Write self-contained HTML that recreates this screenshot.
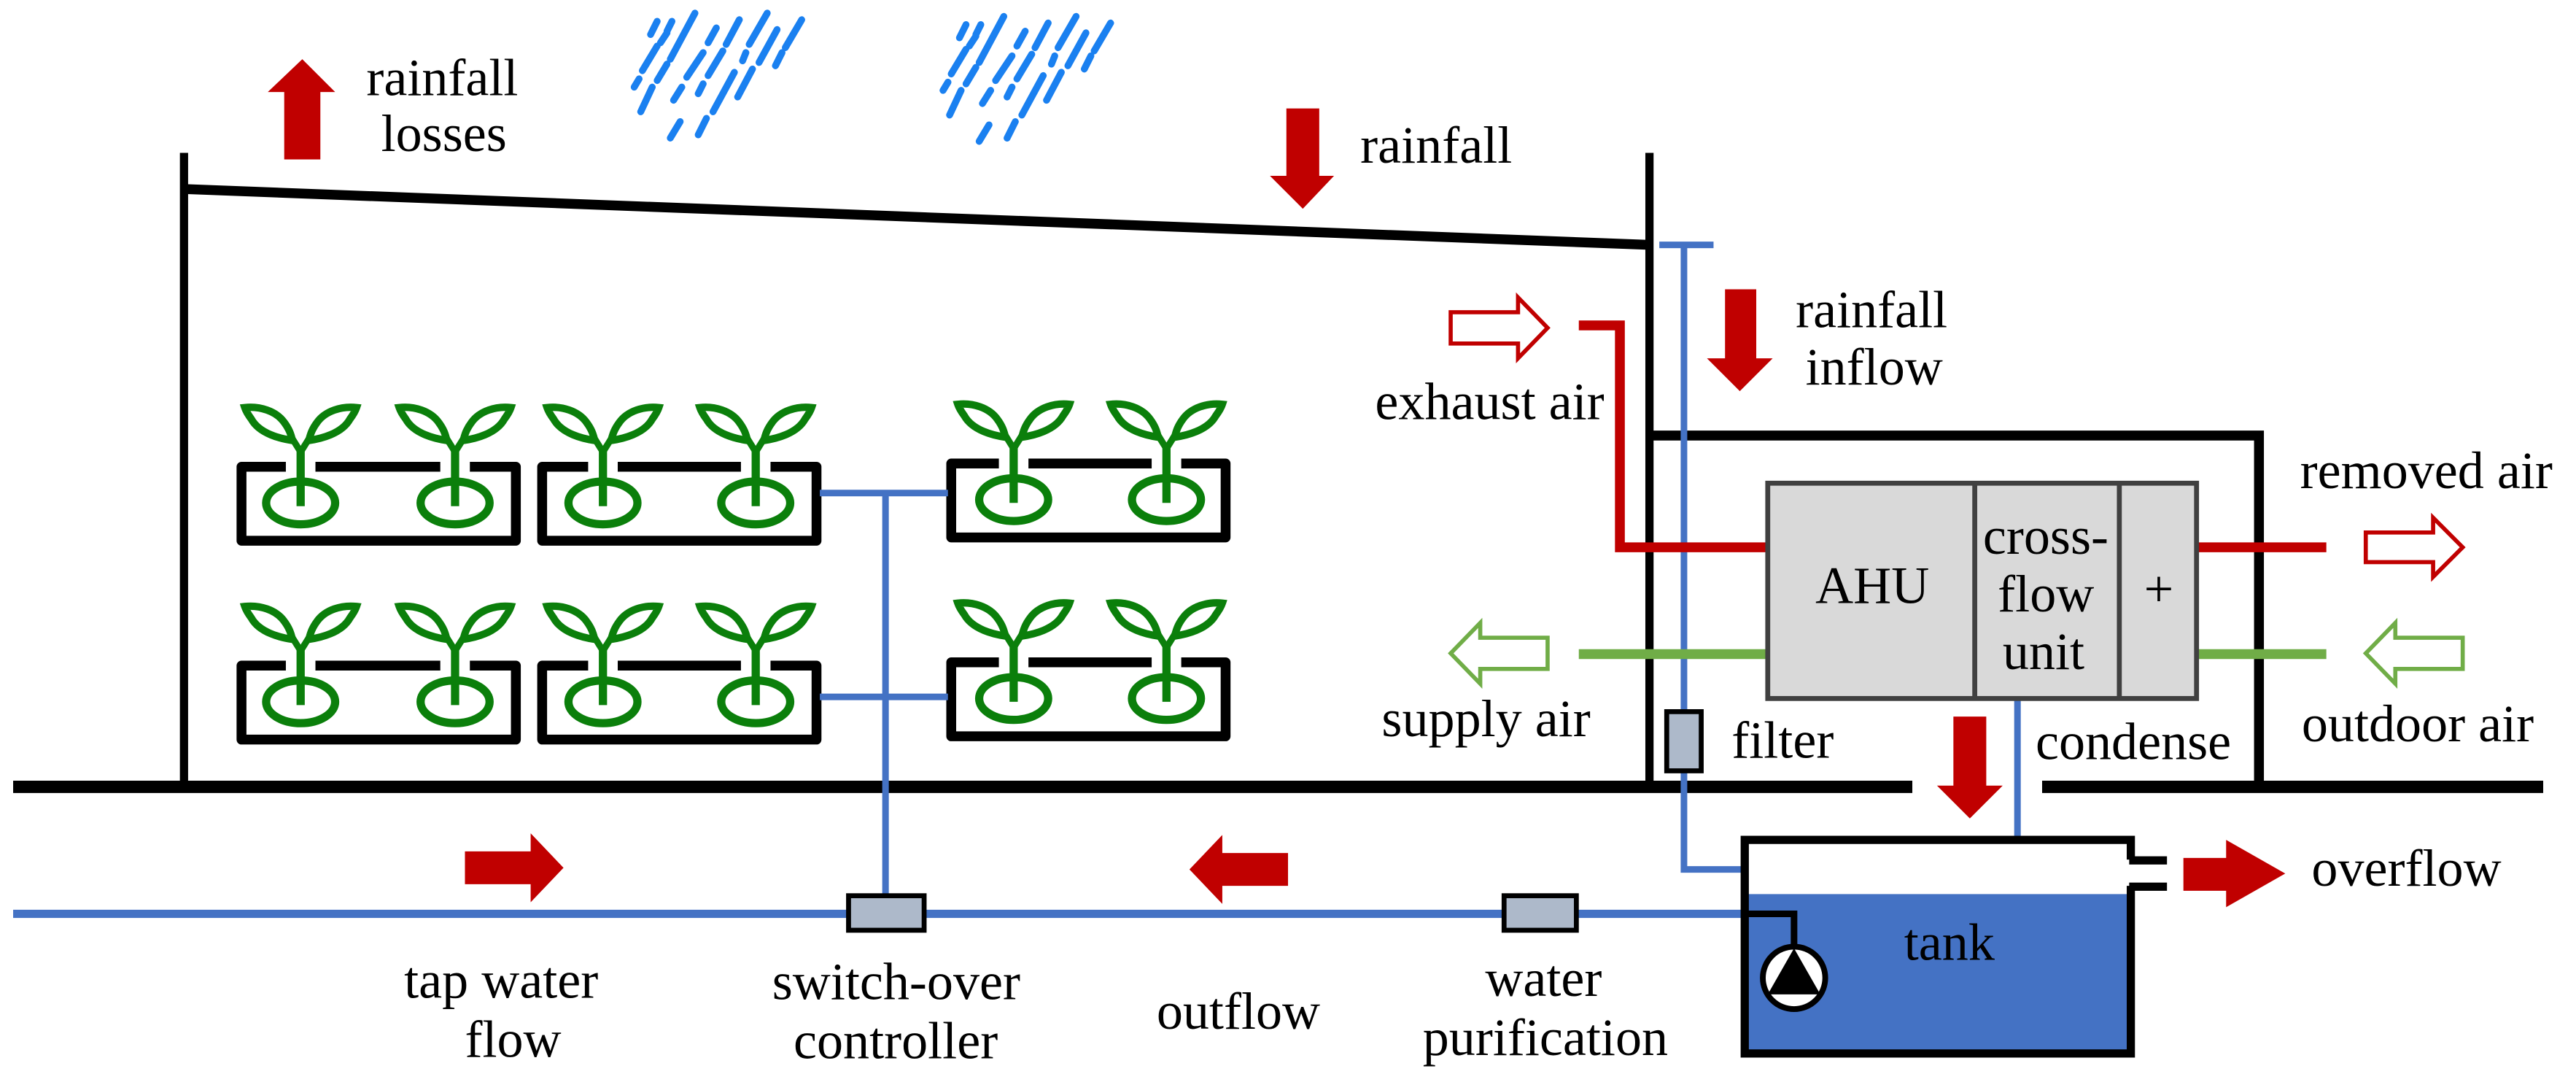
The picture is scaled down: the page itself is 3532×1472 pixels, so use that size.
<!DOCTYPE html>
<html><head><meta charset="utf-8"><style>
html,body{margin:0;padding:0;background:#fff;width:3532px;height:1472px;overflow:hidden}
#w{position:absolute;left:0;top:0;width:1568px;height:653.5px;transform:scale(2.2526);transform-origin:0 0}
svg{display:block;position:absolute;left:0;top:0}
.t{position:absolute;font-family:"Liberation Serif","DejaVu Serif",serif;font-size:32px;line-height:32px;white-space:nowrap;color:#000}
</style></head><body><div id="w">
<svg width="1568" height="653.5" viewBox="0 0 1568 653.5" xmlns="http://www.w3.org/2000/svg">
<defs>
<g id="pl">
<path d="M0,-10 L0,24" stroke="#0b7f0b" stroke-width="5"/>
<path d="M-5,-17 L0,-9 L5,-17" stroke="#0b7f0b" stroke-width="4" fill="none"/>
<path d="M-5,-16 C-12,-17 -25,-20 -30,-29 C-33,-33 -34,-36 -34,-36 C-25,-37 -15,-34 -10,-27 C-7,-23 -6,-20 -5,-16 Z" fill="#fff" stroke="#0b7f0b" stroke-width="4.5"/>
<path d="M5,-16 C12,-17 25,-20 30,-29 C33,-33 34,-36 34,-36 C25,-37 15,-34 10,-27 C7,-23 6,-20 5,-16 Z" fill="#fff" stroke="#0b7f0b" stroke-width="4.5"/>
<ellipse cx="0" cy="22" rx="21" ry="13" fill="none" stroke="#0b7f0b" stroke-width="5"/>
</g>
<g id="rain" stroke="#1a80f0" stroke-width="4.2" stroke-linecap="round">
<line x1="396" y1="21" x2="400" y2="13"/><line x1="402" y1="26" x2="406" y2="20"/><line x1="406" y1="19" x2="409" y2="13"/>
<line x1="408" y1="36" x2="423" y2="8"/><line x1="391" y1="43" x2="400" y2="28"/><line x1="400" y1="49" x2="406" y2="39"/>
<line x1="386" y1="53" x2="389" y2="48"/><line x1="390" y1="68" x2="397" y2="53"/><line x1="410" y1="61" x2="415" y2="53"/>
<line x1="408" y1="84" x2="414" y2="74"/><line x1="418" y1="47" x2="428" y2="32"/><line x1="425" y1="57" x2="428" y2="51"/>
<line x1="425" y1="82" x2="430" y2="72"/><line x1="431" y1="26" x2="436" y2="17"/><line x1="431" y1="46" x2="440" y2="31"/>
<line x1="434" y1="68" x2="447" y2="44"/><line x1="442" y1="27" x2="450" y2="12"/><line x1="449" y1="59" x2="458" y2="42"/>
<line x1="452" y1="37" x2="454" y2="32"/><line x1="456" y1="27" x2="467" y2="8"/><line x1="462" y1="38" x2="473" y2="18"/>
<line x1="472" y1="40" x2="476" y2="32"/><line x1="478" y1="29" x2="488" y2="12"/>
</g>
</defs>
<rect width="1568" height="653.5" fill="#fff"/>
<use href="#rain"/>
<use href="#rain" transform="translate(188,2)"/>
<polygon points="173,97 195,97 195,56 204,56 184,36 163,56 173,56" fill="#c00000"/>
<polygon points="783,66 803,66 803,107 812,107 793,127 773,107 783,107" fill="#c00000"/>
<polygon points="1050,176 1069,176 1069,218 1079,218 1059,238 1039,218 1050,218" fill="#c00000"/>
<line x1="112" y1="93" x2="112" y2="479" stroke="#000" stroke-width="5"/>
<line x1="112" y1="115" x2="1004" y2="149" stroke="#000" stroke-width="6"/>
<line x1="1004" y1="93" x2="1004" y2="479" stroke="#000" stroke-width="5"/>
<polyline points="1004,265 1375,265 1375,479" fill="none" stroke="#000" stroke-width="6"/>
<rect x="8" y="475" width="1156" height="7.5" fill="#000"/>
<rect x="1243" y="475" width="305" height="7.5" fill="#000"/>
<g fill="none" stroke="#000" stroke-width="6" stroke-linejoin="round">
<rect x="147" y="284" width="167" height="45"/><rect x="330" y="284" width="167" height="45"/><rect x="579" y="282" width="167" height="45"/>
<rect x="147" y="405" width="167" height="45"/><rect x="330" y="405" width="167" height="45"/><rect x="579" y="403" width="167" height="45"/>
</g>
<g fill="#fff">
<rect x="174" y="279" width="18" height="9"/><rect x="268" y="279" width="18" height="9"/><rect x="358" y="279" width="18" height="9"/><rect x="451" y="279" width="18" height="9"/><rect x="608" y="277" width="18" height="9"/><rect x="701" y="277" width="18" height="9"/>
<rect x="174" y="400" width="18" height="9"/><rect x="268" y="400" width="18" height="9"/><rect x="358" y="400" width="18" height="9"/><rect x="451" y="400" width="18" height="9"/><rect x="608" y="398" width="18" height="9"/><rect x="701" y="398" width="18" height="9"/>
</g>
<use href="#pl" x="183" y="284"/><use href="#pl" x="277" y="284"/><use href="#pl" x="367" y="284"/><use href="#pl" x="460" y="284"/><use href="#pl" x="617" y="282"/><use href="#pl" x="710" y="282"/>
<use href="#pl" x="183" y="405"/><use href="#pl" x="277" y="405"/><use href="#pl" x="367" y="405"/><use href="#pl" x="460" y="405"/><use href="#pl" x="617" y="403"/><use href="#pl" x="710" y="403"/>
<g stroke="#4472c4" stroke-width="4" fill="none">
<line x1="499" y1="300" x2="577" y2="300"/><line x1="499" y1="424" x2="577" y2="424"/>
<line x1="539" y1="300" x2="539" y2="545"/>
<line x1="1010" y1="149" x2="1043" y2="149"/>
<polyline points="1025,149 1025,529 1060,529"/>
<line x1="1228" y1="425" x2="1228" y2="510"/>
</g>
<line x1="8" y1="556" x2="1062" y2="556" stroke="#4472c4" stroke-width="5"/>
<polyline points="961,198 986,198 986,333 1076,333" fill="none" stroke="#c00000" stroke-width="6"/>
<line x1="1337" y1="333" x2="1416" y2="333" stroke="#c00000" stroke-width="6"/>
<line x1="961" y1="398" x2="1076" y2="398" stroke="#70ad47" stroke-width="6"/>
<line x1="1337" y1="398" x2="1416" y2="398" stroke="#70ad47" stroke-width="6"/>
<polygon points="883,190 924,190 924,181 942,199.5 924,218 924,209 883,209" fill="#fff" stroke="#c00000" stroke-width="2.5"/>
<polygon points="1440,324 1481,324 1481,315 1499,333 1481,351 1481,342 1440,342" fill="#fff" stroke="#c00000" stroke-width="2.5"/>
<polygon points="942,388 901,388 901,379 883,397.5 901,416 901,407 942,407" fill="#fff" stroke="#70ad47" stroke-width="2.5"/>
<polygon points="1499,388 1458,388 1458,379 1440,397.5 1458,416 1458,407 1499,407" fill="#fff" stroke="#70ad47" stroke-width="2.5"/>
<rect x="1076" y="294" width="261" height="131" fill="#d9d9d9" stroke="#404040" stroke-width="3"/>
<line x1="1202" y1="294" x2="1202" y2="425" stroke="#404040" stroke-width="3"/>
<line x1="1290" y1="294" x2="1290" y2="425" stroke="#404040" stroke-width="3"/>
<rect x="1014.5" y="433" width="21" height="36" fill="#adb9ca" stroke="#000" stroke-width="3"/>
<polygon points="1189,436 1209,436 1209,478 1219,478 1199,498 1179,478 1189,478" fill="#c00000"/>
<rect x="1062" y="544" width="234" height="96" fill="#4472c4"/>
<polyline points="1297,523 1297,511 1062,511 1062,641 1297,641 1297,539" fill="none" stroke="#000" stroke-width="5"/>
<rect x="1296" y="521" width="23" height="5" fill="#000"/>
<rect x="1296" y="537" width="23" height="5" fill="#000"/>
<polyline points="1062,556 1092,556 1092,576" fill="none" stroke="#000" stroke-width="4"/>
<circle cx="1092" cy="595" r="19" fill="#fff" stroke="#000" stroke-width="3.5"/>
<polygon points="1092,577 1108,605 1076,605" fill="#000"/>
<polygon points="1329,522 1355,522 1355,511 1391,531.5 1355,552 1355,542 1329,542" fill="#c00000"/>
<rect x="516.5" y="545" width="46" height="21" fill="#adb9ca" stroke="#000" stroke-width="3"/>
<rect x="915.5" y="545" width="44" height="21" fill="#adb9ca" stroke="#000" stroke-width="3"/>
<polygon points="283,518 323,518 323,507 343,528 323,549 323,538 283,538" fill="#c00000"/>
<polygon points="784,519 744,519 744,508 724,529 744,550 744,539 784,539" fill="#c00000"/>
</svg>
<div class="t" style="left:223px;top:31px">rainfall</div>
<div class="t" style="left:232px;top:65px">losses</div>
<div class="t" style="left:828px;top:72px">rainfall</div>
<div class="t" style="left:1093px;top:172px">rainfall</div>
<div class="t" style="left:1099px;top:207px">inflow</div>
<div class="t" style="left:1105px;top:340px">AHU</div>
<div class="t" style="left:1207px;top:310px">cross-</div>
<div class="t" style="left:1216px;top:345px">flow</div>
<div class="t" style="left:1219px;top:380px">unit</div>
<div class="t" style="left:1305px;top:342px">+</div>
<div class="t" style="left:837px;top:228px">exhaust air</div>
<div class="t" style="left:1400px;top:270px">removed air</div>
<div class="t" style="left:841px;top:421px">supply air</div>
<div class="t" style="left:1401px;top:424px">outdoor air</div>
<div class="t" style="left:1054px;top:434px">filter</div>
<div class="t" style="left:1239px;top:435px">condense</div>
<div class="t" style="left:1159px;top:557px">tank</div>
<div class="t" style="left:1407px;top:512px">overflow</div>
<div class="t" style="left:246px;top:580px">tap water</div>
<div class="t" style="left:283px;top:616px">flow</div>
<div class="t" style="left:470px;top:581px">switch-over</div>
<div class="t" style="left:483px;top:617px">controller</div>
<div class="t" style="left:704px;top:599px">outflow</div>
<div class="t" style="left:904px;top:579px">water</div>
<div class="t" style="left:866px;top:615px">purification</div>
</div></body></html>
